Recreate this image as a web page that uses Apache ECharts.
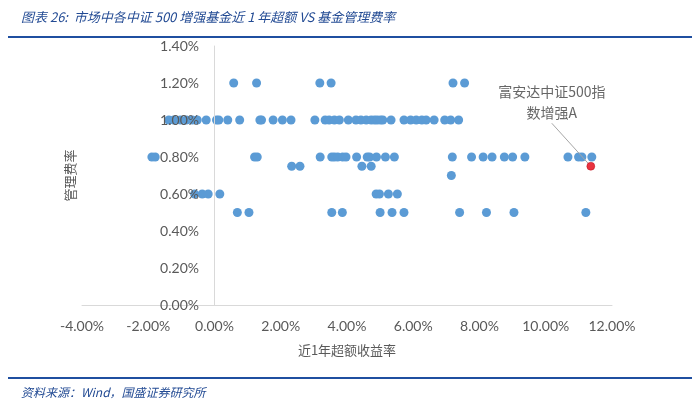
<!DOCTYPE html>
<html>
<head>
<meta charset="utf-8">
<script src="https://cdn.jsdelivr.net/npm/echarts@6/dist/echarts.min.js"></script>
<style>
  html, body { margin: 0; padding: 0; background: #fff; }
  #container { width: 700px; height: 399px; }
</style>
</head>
<body>
<div id="container"></div>
<script>
// fee levels (%) and the 1-year excess returns (%) of the funds at each level
var feeLevels = [1.2, 1.0, 0.8, 0.75, 0.7, 0.6, 0.5];
var excessByFee = [
  [0.58, 1.27, 3.18, 3.52, 7.20, 7.55],
  [-1.38, -1.23, -1.03, -0.85, -0.67, -0.52, -0.25, 0.06, 0.13, 0.40, 0.76, 1.37, 1.42, 1.77, 2.05, 2.31,
   3.03, 3.34, 3.46, 3.62, 3.77, 4.04, 4.27, 4.42, 4.58, 4.73, 4.83, 4.91, 5.01, 5.08, 5.33,
   5.72, 5.92, 6.09, 6.26, 6.39, 6.63, 6.95, 7.13, 7.37],
  [-1.89, -1.79, 1.21, 1.29, 3.19, 3.54, 3.62, 3.72, 3.87, 3.97, 4.29, 4.61, 4.68, 4.89, 5.16, 5.43,
   7.18, 7.76, 8.11, 8.38, 8.75, 9.00, 9.37, 10.67, 10.99, 11.09, 11.39],
  [2.33, 2.58, 4.45, 4.73],
  [7.15],
  [-0.60, -0.37, -0.19, 0.16, 4.88, 4.98, 5.25, 5.52],
  [0.69, 1.04, 3.54, 3.86, 5.00, 5.36, 5.72, 7.40, 8.21, 9.04, 11.21]
];
var highlightName = '富安达中证500指\n数增强A';
var highlightPoint = [11.36, 0.75];

var xTicks = { min: -4, max: 12, interval: 2 };
var yTicks = { min: 0, max: 1.4, interval: 0.2 };

var funds = [];
feeLevels.forEach(function (fee, i) {
  excessByFee[i].forEach(function (x) { funds.push([x, fee]); });
});

var dom = document.getElementById('container');
var myChart = echarts.init(dom, null, { renderer: 'canvas' });
var pct = function (v) { return v.toFixed(2) + '%'; };
var font = 'Lato, "Noto Sans CJK SC", sans-serif';
var cjk = '"Noto Sans CJK SC", sans-serif';

var option = {
  backgroundColor: '#fff',
  animation: false,
  title: [
    {
      text: '图表 26:  市场中各中证 500 增强基金近 1 年超额 VS 基金管理费率',
      left: 16,
      top: 6,
      textStyle: { fontSize: 13, fontStyle: 'italic', fontWeight: 'normal', color: '#234B94', fontFamily: cjk }
    },
    {
      text: '资料来源：Wind，国盛证券研究所',
      left: 16,
      top: 381,
      textStyle: { fontSize: 12, fontStyle: 'italic', fontWeight: 'normal', color: '#234B94', fontFamily: cjk }
    }
  ],
  graphic: [
    { type: 'line', shape: { x1: 8, y1: 37, x2: 692, y2: 37 }, style: { stroke: '#1F4FA0', lineWidth: 2 } },
    { type: 'line', shape: { x1: 8, y1: 378, x2: 692, y2: 378 }, style: { stroke: '#1F4FA0', lineWidth: 2 } }
  ],
  grid: { left: 82, right: 88, top: 46, bottom: 94, containLabel: false, outerBoundsMode: 'none' },
  xAxis: {
    type: 'value',
    min: xTicks.min,
    max: xTicks.max,
    interval: xTicks.interval,
    name: '近1年超额收益率',
    nameLocation: 'middle',
    nameGap: 39,
    nameTextStyle: { fontSize: 13, color: '#595959', fontFamily: cjk },
    axisLine: { onZero: false, lineStyle: { color: '#D9D9D9', width: 1 } },
    axisTick: { show: false },
    splitLine: { show: false },
    axisLabel: { formatter: pct, fontSize: 14, color: '#595959', margin: 14, fontFamily: font }
  },
  yAxis: {
    type: 'value',
    min: yTicks.min,
    max: yTicks.max,
    interval: yTicks.interval,
    z: 5,
    name: '管理费率',
    nameLocation: 'middle',
    nameGap: 5,
    nameMoveOverlap: false,
    nameTextStyle: { fontSize: 13, color: '#595959', fontFamily: cjk },
    axisLine: { show: true, onZero: true, lineStyle: { color: '#D9D9D9', width: 1 } },
    axisTick: { show: false },
    splitLine: { show: false },
    axisLabel: { formatter: pct, fontSize: 14, color: '#595959', margin: -117, fontFamily: font }
  },
  series: [
    {
      name: 'funds',
      type: 'scatter',
      symbolSize: 9,
      itemStyle: { color: '#5B9BD5', opacity: 1 },
      data: funds
    },
    {
      name: 'highlight',
      type: 'scatter',
      symbolSize: 8,
      z: 3,
      itemStyle: { color: '#E3000F', borderColor: '#B00010', borderWidth: 0.5 },
      label: {
        show: true,
        position: 'inside',
        formatter: highlightName,
        fontSize: 14,
        lineHeight: 21,
        align: 'center',
        color: '#404040',
        fontFamily: cjk
      },
      labelLayout: { dx: -39, dy: -64 },
      labelLine: { show: true, lineStyle: { color: '#A6A6A6', width: 1 } },
      data: [highlightPoint]
    }
  ]
};

myChart.setOption(option);
window.addEventListener('resize', myChart.resize);
</script>
</body>
</html>
